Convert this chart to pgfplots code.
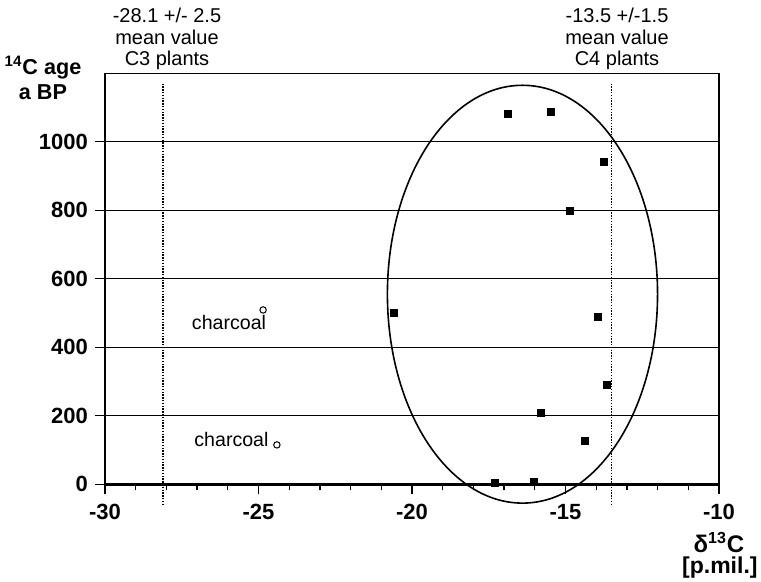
\documentclass[border=0pt]{standalone}
\usepackage{fontspec}
\setmainfont{Liberation Sans}
\usepackage{pgfplots}
\pgfplotsset{compat=1.18}
\begin{document}
\begin{tikzpicture}
\begin{axis}[
  scale only axis, width=307pt, height=205.5pt,
  xmin=-30, xmax=-10, ymin=0, ymax=1200,
  xtick={-30,-25,-20,-15,-10}, minor x tick num=4,
  ytick={0,200,400,600,800,1000},
  xtick pos=bottom, ytick pos=left,
  tick align=outside, major tick length=5pt, minor tick length=3pt,
  ymajorgrids, grid style={black, line width=0.65pt},
  axis line style={line width=0.65pt},
  tick style={black, line width=0.65pt},
  every tick label/.append style={font=\fontsize{11}{13}\selectfont\bfseries},
  xticklabel style={yshift=-1.5pt},
  /pgf/number format/assume math mode=true,
  /pgf/number format/1000 sep={},
  clip=false,
]
\draw[line width=1.3pt] (axis cs:-30,0) -- (axis cs:-10,0);
\draw[line width=0.9pt, dash pattern=on 0.7pt off 0.7pt] (axis cs:-28.1,1170) -- (axis cs:-28.1,-60);
\draw[line width=0.9pt, dash pattern=on 0.7pt off 0.7pt] (axis cs:-13.5,1170) -- (axis cs:-13.5,-60);
\draw[line width=0.8pt] (axis cs:-16.4,555) ellipse [x radius=4.4, y radius=610];
\addplot[only marks, mark=square*, mark size=1.75pt, black] coordinates {
(-16.88,1081) (-15.47,1086) (-13.76,941) (-14.85,797) (-20.59,501)
(-13.95,489) (-13.66,289) (-15.81,209) (-14.37,127) (-17.30,3) (-16.03,7)
};
\addplot[only marks, mark=o, mark size=1.6pt, black, mark options={line width=0.5pt}] coordinates {
(-24.85,509) (-24.40,115)
};
\node[align=center, font=\fontsize{10}{10.7}\selectfont] at (axis cs:-27.98,1300) {-28.1 +/- 2.5\\mean value\\C3 plants};
\node[align=center, font=\fontsize{10}{10.7}\selectfont] at (axis cs:-13.32,1300) {-13.5 +/-1.5\\mean value\\C4 plants};
\node[align=center, font=\fontsize{10.8}{12.5}\selectfont\bfseries] at (axis cs:-32.02,1187) {\textsuperscript{14}C age\\a BP};
\node[font=\fontsize{12}{13}\selectfont\bfseries] at (axis cs:-10,-171) {δ\textsuperscript{13}C};
\node[font=\fontsize{11.5}{13}\selectfont\bfseries] at (axis cs:-9.97,-244) {[p.mil.]};
\node[font=\fontsize{9.8}{10.5}\selectfont] at (axis cs:-25.96,471) {charcoal};
\node[font=\fontsize{9.8}{10.5}\selectfont] at (axis cs:-25.88,132) {charcoal};
\coordinate (bl) at (axis cs:-33.42,-285);
\coordinate (tr) at (axis cs:-8.63,1414);
\end{axis}
\pgfresetboundingbox
\path (bl) rectangle (tr);
\end{tikzpicture}
\end{document}
